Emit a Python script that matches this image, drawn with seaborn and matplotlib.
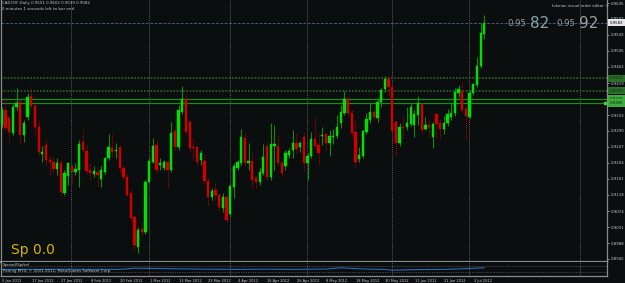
import numpy as np
import pandas as pd
import matplotlib
matplotlib.use("Agg")
import matplotlib.pyplot as plt
import matplotlib.transforms as mtransforms
import seaborn as sns

# CADCHF daily candles, 4 Jan 2012 .. 5 Jul 2012
opens = [0.9307, 0.9347, 0.9325, 0.9285, 0.9355, 0.9369, 0.9280, 0.9328, 0.9385, 0.9358,
         0.9301, 0.9228, 0.9253, 0.9212, 0.9207, 0.9188, 0.9204, 0.9123, 0.9169, 0.9196,
         0.9180, 0.9185, 0.9261, 0.9236, 0.9185, 0.9174, 0.9180, 0.9161, 0.9180, 0.9217,
         0.9244, 0.9236, 0.9247, 0.9190, 0.9166, 0.9123, 0.9058, 0.8977, 0.9026, 0.9018,
         0.9153, 0.9207, 0.9253, 0.9199, 0.9190, 0.9207, 0.9185, 0.9290, 0.9247, 0.9342,
         0.9377, 0.9315, 0.9247, 0.9247, 0.9212, 0.9209, 0.9155, 0.9112, 0.9131, 0.9118,
         0.9082, 0.9112, 0.9066, 0.9139, 0.9190, 0.9204, 0.9271, 0.9204, 0.9209, 0.9163,
         0.9153, 0.9177, 0.9250, 0.9166, 0.9250, 0.9250, 0.9204, 0.9196, 0.9226, 0.9239,
         0.9258, 0.9247, 0.9274, 0.9204, 0.9223, 0.9269, 0.9253, 0.9277, 0.9282, 0.9258,
         0.9274, 0.9277, 0.9312, 0.9339, 0.9377, 0.9339, 0.9288, 0.9215, 0.9223, 0.9288,
         0.9320, 0.9342, 0.9325, 0.9369, 0.9404, 0.9431, 0.9409, 0.9315, 0.9258, 0.9301,
         0.9301, 0.9309, 0.9307, 0.9334, 0.9363, 0.9296, 0.9307, 0.9274, 0.9336, 0.9312,
         0.9296, 0.9312, 0.9328, 0.9339, 0.9393, 0.9398, 0.9350, 0.9328, 0.9393, 0.9415,
         0.9466, 0.9551]
highs = [0.9355, 0.9382, 0.9334, 0.9363, 0.9406, 0.9377, 0.9320, 0.9393, 0.9409, 0.9363,
         0.9323, 0.9250, 0.9266, 0.9226, 0.9220, 0.9217, 0.9212, 0.9185, 0.9207, 0.9204,
         0.9204, 0.9266, 0.9296, 0.9255, 0.9204, 0.9196, 0.9193, 0.9196, 0.9220, 0.9282,
         0.9282, 0.9258, 0.9253, 0.9199, 0.9172, 0.9131, 0.9064, 0.9031, 0.9045, 0.9158,
         0.9217, 0.9271, 0.9266, 0.9217, 0.9212, 0.9212, 0.9315, 0.9301, 0.9361, 0.9412,
         0.9393, 0.9320, 0.9271, 0.9253, 0.9239, 0.9226, 0.9163, 0.9136, 0.9150, 0.9123,
         0.9123, 0.9118, 0.9147, 0.9204, 0.9212, 0.9296, 0.9285, 0.9258, 0.9231, 0.9172,
         0.9190, 0.9255, 0.9266, 0.9312, 0.9307, 0.9280, 0.9212, 0.9239, 0.9244, 0.9293,
         0.9285, 0.9263, 0.9285, 0.9231, 0.9288, 0.9328, 0.9285, 0.9301, 0.9288, 0.9293,
         0.9296, 0.9334, 0.9361, 0.9398, 0.9382, 0.9347, 0.9320, 0.9247, 0.9293, 0.9339,
         0.9366, 0.9355, 0.9377, 0.9406, 0.9439, 0.9436, 0.9417, 0.9320, 0.9312, 0.9328,
         0.9355, 0.9366, 0.9347, 0.9385, 0.9369, 0.9328, 0.9323, 0.9315, 0.9339, 0.9323,
         0.9331, 0.9350, 0.9366, 0.9406, 0.9415, 0.9425, 0.9361, 0.9401, 0.9420, 0.9490,
         0.9582, 0.9602]
lows = [0.9298, 0.9293, 0.9261, 0.9280, 0.9347, 0.9258, 0.9261, 0.9320, 0.9352, 0.9282,
        0.9226, 0.9207, 0.9199, 0.9172, 0.9177, 0.9172, 0.9118, 0.9118, 0.9145, 0.9150,
        0.9172, 0.9139, 0.9234, 0.9177, 0.9158, 0.9166, 0.9142, 0.9139, 0.9174, 0.9212,
        0.9220, 0.9217, 0.9180, 0.9161, 0.9115, 0.9050, 0.8969, 0.8961, 0.9010, 0.9013,
        0.9150, 0.9204, 0.9180, 0.9185, 0.9185, 0.9139, 0.9180, 0.9239, 0.9239, 0.9336,
        0.9282, 0.9234, 0.9212, 0.9199, 0.9199, 0.9150, 0.9090, 0.9104, 0.9104, 0.9077,
        0.9072, 0.9045, 0.9058, 0.9109, 0.9185, 0.9199, 0.9199, 0.9185, 0.9136, 0.9136,
        0.9145, 0.9172, 0.9158, 0.9158, 0.9185, 0.9199, 0.9169, 0.9185, 0.9217, 0.9217,
        0.9231, 0.9234, 0.9185, 0.9158, 0.9217, 0.9244, 0.9199, 0.9253, 0.9239, 0.9223,
        0.9255, 0.9271, 0.9298, 0.9334, 0.9331, 0.9277, 0.9193, 0.9207, 0.9217, 0.9282,
        0.9312, 0.9320, 0.9315, 0.9355, 0.9396, 0.9385, 0.9258, 0.9226, 0.9250, 0.9271,
        0.9293, 0.9304, 0.9274, 0.9307, 0.9285, 0.9293, 0.9274, 0.9244, 0.9274, 0.9271,
        0.9282, 0.9304, 0.9320, 0.9331, 0.9382, 0.9342, 0.9269, 0.9325, 0.9388, 0.9409,
        0.9460, 0.9539]
closes = [0.9347, 0.9298, 0.9288, 0.9355, 0.9366, 0.9280, 0.9312, 0.9382, 0.9358, 0.9301,
          0.9234, 0.9234, 0.9212, 0.9207, 0.9188, 0.9204, 0.9126, 0.9177, 0.9204, 0.9180,
          0.9188, 0.9255, 0.9239, 0.9182, 0.9177, 0.9182, 0.9172, 0.9185, 0.9217, 0.9247,
          0.9234, 0.9239, 0.9190, 0.9166, 0.9118, 0.9055, 0.8983, 0.9023, 0.9018, 0.9153,
          0.9209, 0.9250, 0.9185, 0.9204, 0.9207, 0.9185, 0.9285, 0.9247, 0.9347, 0.9377,
          0.9288, 0.9244, 0.9244, 0.9207, 0.9231, 0.9155, 0.9112, 0.9128, 0.9118, 0.9085,
          0.9112, 0.9050, 0.9142, 0.9196, 0.9207, 0.9274, 0.9204, 0.9209, 0.9158, 0.9153,
          0.9180, 0.9220, 0.9166, 0.9255, 0.9255, 0.9204, 0.9177, 0.9231, 0.9236, 0.9258,
          0.9242, 0.9258, 0.9204, 0.9223, 0.9269, 0.9250, 0.9231, 0.9280, 0.9258, 0.9277,
          0.9277, 0.9301, 0.9342, 0.9377, 0.9339, 0.9285, 0.9207, 0.9226, 0.9290, 0.9323,
          0.9342, 0.9328, 0.9369, 0.9401, 0.9431, 0.9409, 0.9290, 0.9258, 0.9301, 0.9298,
          0.9312, 0.9355, 0.9336, 0.9366, 0.9293, 0.9307, 0.9301, 0.9309, 0.9309, 0.9296,
          0.9312, 0.9336, 0.9339, 0.9396, 0.9404, 0.9347, 0.9331, 0.9393, 0.9417, 0.9466,
          0.9555, 0.9582]

date_labels = ["5 Jan 2012", "17 Jan 2012", "27 Jan 2012", "8 Feb 2012", "20 Feb 2012",
               "1 Mar 2012", "13 Mar 2012", "23 Mar 2012", "4 Apr 2012", "16 Apr 2012",
               "26 Apr 2012", "8 May 2012", "18 May 2012", "30 May 2012", "11 Jun 2012",
               "21 Jun 2012", "3 Jul 2012"]
date_label_bars = [1, 9, 17, 25, 33, 41, 49, 57, 65, 73, 81, 89, 97, 105, 113, 121, 129]

price_ticks = [0.8945, 0.8988, 0.9031, 0.9074, 0.9118, 0.9161, 0.9204, 0.9247, 0.9290,
               0.9333, 0.9376, 0.9419, 0.9463, 0.9506, 0.9549, 0.9592, 0.9635]

levels_dotted = [0.9432, 0.9399]
levels_solid = [0.9376, 0.9365]
bid = 0.9582

spread_bars = [0, 8, 16, 24, 32, 36, 40, 48, 56, 64, 72, 80, 88, 92, 96, 100, 104, 106, 112, 120, 126, 131]
spread_vals = [3.3, 3.3, 3.4, 3.3, 3.3, 3.9, 3.8, 3.6, 3.4, 3.3, 3.4, 3.3, 3.5, 4.1, 3.7, 3.4, 3.3, 2.9, 3.2, 3.3, 3.7, 4.1]

bg = "#0a0e0f"
txt = "#c8c8c8"
axis_col = "#8c8c8c"
sns.set_theme(style="dark", rc={"axes.facecolor": bg, "figure.facecolor": bg})
plt.rcParams["font.family"] = ["DejaVu Sans"]

df = pd.DataFrame({"open": opens, "high": highs, "low": lows, "close": closes})
df["bar"] = np.arange(len(df))
up = df["close"] >= df["open"]
body = (df["close"] - df["open"]).abs()

fig = plt.figure(figsize=(6.25, 2.83), dpi=100)
ax = fig.add_axes([1 / 625, 1 - 261.7 / 283, 606 / 625, 261.7 / 283])
sub = fig.add_axes([1 / 625, 1 - 276 / 283, 606 / 625, 14 / 283])

xlim = (-0.22, 164.3)
vgrid = [18.8, 40.0, 62.0, 82.9, 105.9, 126.9, 157.1]
for a in (ax, sub):
    a.set_facecolor(bg)
    a.set_xlim(*xlim)
    a.grid(False)
    for v in vgrid:
        a.axvline(v, color="#7a7a7a", lw=0.6, ls=(0, (1, 1.5)), zorder=0)
    a.spines["top"].set_visible(False)
    for s in ("left", "right", "bottom"):
        a.spines[s].set_color(axis_col)
        a.spines[s].set_linewidth(0.9)
ax.spines["bottom"].set_linewidth(1.6)

# horizontal levels
for lv in levels_dotted:
    ax.axhline(lv, color="#285a28", lw=1.3, ls=(0, (1, 0.8)), zorder=1)
for lv in levels_solid:
    ax.axhline(lv, color="#1c8c1c", lw=0.9, zorder=1)
ax.axhline(bid, color="#3d5c7c", lw=0.7, ls=(0, (3, 1.5)), zorder=1)

# candles
ax.vlines(df["bar"][up], df["low"][up], df["high"][up], color="#128a12", lw=0.8, zorder=2)
ax.vlines(df["bar"][~up], df["low"][~up], df["high"][~up], color="#b00000", lw=0.8,
          linestyles=(0, (1, 1)), zorder=2)
ax.bar(df["bar"][up], body[up], bottom=df["open"][up], width=0.62, color="#00e000",
       edgecolor="#00e000", lw=0.3, zorder=3)
ax.bar(df["bar"][~up], body[~up], bottom=df["close"][~up], width=0.62, color="#d00000",
       edgecolor="#d00000", lw=0.3, zorder=3)

ax.set_ylim(0.89377, 0.96431)
ax.yaxis.tick_right()
ax.set_yticks(price_ticks)
ax.set_yticklabels([f"{p:.4f}" for p in price_ticks])
ax.tick_params(axis="y", labelsize=2.8, colors=txt, length=1.5, width=0.5, pad=1, direction="out")
ax.tick_params(axis="x", bottom=False, labelbottom=False)
ax.set_xlabel("")
ax.set_ylabel("")

# price boxes on the right scale
tr = mtransforms.blended_transform_factory(ax.transAxes, ax.transData)
for lv in levels_dotted:
    ax.text(1.004, lv, f"{lv:.4f}", transform=tr, fontsize=2.8, color="#0b2a0b", va="center",
            ha="left", clip_on=False, bbox=dict(boxstyle="square,pad=0.45", fc="#2a6e2a", ec="none"))
for lv in levels_solid:
    ax.text(1.004, lv, f"{lv:.4f}", transform=tr, fontsize=2.8, color="#0b2a0b", va="center",
            ha="left", clip_on=False, bbox=dict(boxstyle="square,pad=0.45", fc="#3caa3c", ec="none"))
ax.text(1.004, bid, f"{bid:.4f}", transform=tr, fontsize=2.8, color="#000000", va="center",
        ha="left", clip_on=False, bbox=dict(boxstyle="square,pad=0.45", fc="#e6e6e6", ec="none"))
ax.plot([0.997], [levels_solid[1]], transform=tr, marker="s", ms=1.6, color="#33dd33",
        clip_on=False, zorder=4)

# chart texts
ax.text(0.002, 0.995, "CADCHF,Daily 0.9551 0.9602 0.9539 0.9582", transform=ax.transAxes,
        fontsize=2.9, color=txt, va="top", ha="left")
ax.text(0.002, 0.972, "0 minutes 1 seconds left to bar end", transform=ax.transAxes,
        fontsize=2.9, color=txt, va="top", ha="left")
fig.text(552 / 625, 1 - 7 / 283, "lukman visual order editor \u00a9", fontsize=2.8, color=txt)
fig.text(507 / 625, 1 - 26 / 283, "0.95", fontsize=6.2, color="#9a9a9a")
fig.text(530 / 625, 1 - 28 / 283, "82", fontsize=11, color="#86a6a6")
fig.text(556 / 625, 1 - 26 / 283, "0.95", fontsize=6.2, color="#9a9a9a")
fig.text(579 / 625, 1 - 28 / 283, "92", fontsize=11, color="#a0a0a0")
fig.text(11 / 625, 1 - 254 / 283, "Sp 0.0", fontsize=10, color="#d8b000")

# spread sub-window
for lv in (5.0, 2.0):
    sub.axhline(lv, color="#6a6a6a", lw=0.5, ls=(0, (1, 1.5)), zorder=0)
sns.lineplot(x=spread_bars, y=spread_vals, ax=sub, color="#2a6ab8", lw=0.8, zorder=2)
sub.set_ylim(0, 7)
sub.set_yticks([])
sub.set_xticks([b - 0.9 for b in date_label_bars])
sub.set_xticklabels(date_labels, ha="left")
sub.tick_params(axis="x", labelsize=2.6, colors=txt, length=1.5, width=0.5, pad=0.6, direction="out")
sub.set_xlabel("")
sub.set_ylabel("")
sub.text(0.003, 0.93, "Spread(Spike)", transform=sub.transAxes, fontsize=2.8, color=txt,
         va="top", ha="left")
sub.text(0.003, 0.52, "Pairing MT4, \u00a9 2001-2012, MetaQuotes Software Corp.",
         transform=sub.transAxes, fontsize=2.8, color=txt, va="top", ha="left")

fig.savefig("out.png", dpi=100, facecolor=bg)
